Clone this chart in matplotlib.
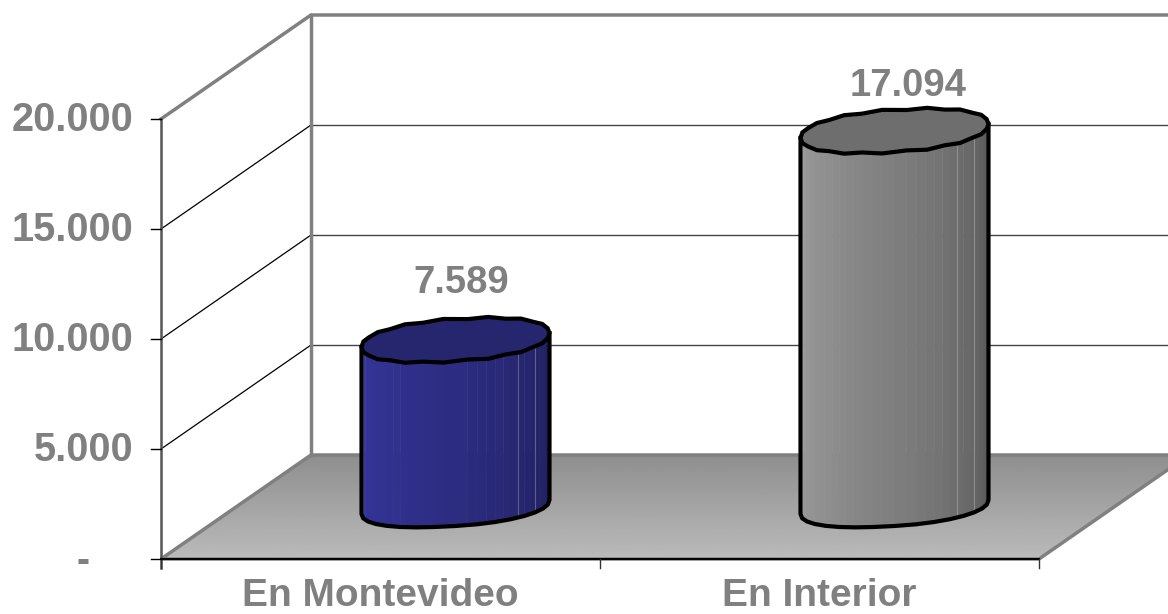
import numpy as np
import matplotlib
matplotlib.use("Agg")
import matplotlib.pyplot as plt
from matplotlib.patches import Polygon

categories = ["En Montevideo", "En Interior"]
values = [7589, 17094]
value_labels = ["7.589", "17.094"]
ticks = [0, 5000, 10000, 15000, 20000]
tick_labels = ["-", "5.000", "10.000", "15.000", "20.000"]

GREY = "#808080"
FONT = "Liberation Sans"

# oblique chart frame, in pixels
X0, X1 = 161, 1039
Y0 = 559
PX_PER_UNIT = 440 / 20000
DX, DY = 150, -104

# where the value labels sit relative to the top of each cylinder
LABEL_OFFSET = [(6, -57), (14, -45)]


def project(cat, val, depth=0.0):
    """cat 0..2 along the x axis, val on the y axis, depth 0 front .. 1 back."""
    x = X0 + (X1 - X0) * cat / 2 + DX * depth
    y = Y0 - val * PX_PER_UNIT + DY * depth
    return x, y


def hex_mix(c1, c2, t):
    c1 = np.array(matplotlib.colors.to_rgb(c1))
    c2 = np.array(matplotlib.colors.to_rgb(c2))
    return c1 + (c2 - c1) * t


def draw_cylinder(ax, i, val, light, dark, top_color):
    cx, base_y = project(i + 0.5, 0, 0.5)
    top_y = base_y - val * PX_PER_UNIT
    a, tilt, b = 94, 7, 21

    # coarse outline, the original is a rough polygon
    n = 30
    t = np.linspace(0, 2 * np.pi, n, endpoint=False)
    wob = np.where(np.arange(n) % 2 == 0, 0.9, -0.7)
    ex = a * np.sign(np.cos(t)) * np.abs(np.cos(t)) ** 0.9
    ey = -tilt * np.cos(t) + (b + wob) * np.sign(np.sin(t)) * np.abs(np.sin(t)) ** 0.9

    # side strips, left to right (front half of the ellipse)
    front = np.linspace(np.pi, 0, 33)
    fx = a * np.sign(np.cos(front)) * np.abs(np.cos(front)) ** 0.9
    fy = -tilt * np.cos(front) + b * np.abs(np.sin(front)) ** 0.9
    base_fy = -tilt * np.cos(front) + (b - 2) * np.abs(np.sin(front)) ** 0.9
    for k in range(len(front) - 1):
        c = hex_mix(light, dark, (k / (len(front) - 2)) ** 1.3)
        quad = [(cx + fx[k], top_y + fy[k]), (cx + fx[k + 1] + 0.5, top_y + fy[k + 1]),
                (cx + fx[k + 1] + 0.5, base_y + base_fy[k + 1]), (cx + fx[k], base_y + base_fy[k])]
        ax.add_patch(Polygon(quad, closed=True, fc=c, ec="none", zorder=5))
        if k in (2, 23, 26):
            ax.plot([cx + fx[k]] * 2, [top_y + fy[k], base_y + base_fy[k]],
                    color="white", alpha=0.25, lw=0.8, zorder=6)

    # outline of the body
    bx = np.concatenate([[cx - a], cx + fx[::2], [cx + a]])
    by = np.concatenate([[top_y + tilt], base_y + base_fy[::2], [top_y - tilt]])
    ax.plot(bx, by, color="black", lw=3, zorder=7, solid_joinstyle="round")

    pts = np.column_stack([cx + ex, top_y + ey])
    ax.add_patch(Polygon(pts, closed=True, fc=top_color, ec="black", lw=3, zorder=8))

    off = LABEL_OFFSET[i]
    ax.text(cx + off[0], top_y + off[1], value_labels[i], ha="center", va="center", color=GREY,
            fontsize=27.5, fontweight="bold", family=FONT, zorder=9)


fig = plt.figure(figsize=(11.68, 6.14), dpi=100)
ax = fig.add_axes([0, 0, 1, 1])
ax.set_xlim(0, 1168)
ax.set_ylim(614, 0)
ax.axis("off")

# floor with vertical gradient
floor = [project(0, 0), project(2, 0), project(2, 0, 1), project(0, 0, 1)]
fy_top, fy_bot = floor[2][1], floor[0][1]
grad = np.linspace(0.56, 0.73, 100).reshape(-1, 1)
im = ax.imshow(grad, cmap="gray", vmin=0, vmax=1, aspect="auto",
               extent=(X0, X1 + DX, fy_bot, fy_top), zorder=1)
floor_patch = Polygon(floor, closed=True, fc="none", ec=GREY, lw=2.5, zorder=2)
ax.add_patch(floor_patch)
im.set_clip_path(floor_patch)
ax.set_xlim(0, 1168)
ax.set_ylim(614, 0)

# gridlines, side wall and back wall
for v in ticks[1:-1]:
    x0, y0 = project(0, v)
    x1, y1 = project(0, v, 1)
    x2, y2 = project(2, v, 1)
    ax.plot([x0, x1], [y0, y1], color="black", lw=0.9, zorder=2)
    ax.plot([x1, x2], [y1, y2], color="#444444", lw=1.0, zorder=2)

x0, y0 = project(0, ticks[-1])
x1, y1 = project(0, ticks[-1], 1)
x2, y2 = project(2, ticks[-1], 1)
ax.plot([x0, x1, x2], [y0, y1, y2], color=GREY, lw=2.5, zorder=3)
xb, yb = project(0, 0, 1)
ax.plot([x1, xb], [y1, yb], color=GREY, lw=2.5, zorder=3)

# front axes
ax.plot([X0, X0], [project(0, ticks[-1])[1], Y0 + 9], color="#555555", lw=1.8, zorder=4)
ax.plot([X0, X1], [Y0, Y0], color="black", lw=1.4, zorder=4)
for k in range(3):
    x, y = project(k, 0)
    ax.plot([x, x], [y, y + 9], color="#333333", lw=1.0, zorder=4)

for v, lab in zip(ticks, tick_labels):
    x, y = project(0, v)
    ax.plot([x - 10, x], [y, y], color="black", lw=1.0, zorder=4)
    if lab == "-":
        ax.text(83, y + 2, lab, ha="center", va="center", color=GREY, fontsize=28.5,
                fontweight="bold", family=FONT)
    else:
        ax.text(133, y + 1, lab, ha="right", va="center", color=GREY, fontsize=28.5,
                fontweight="bold", family=FONT)

for i, cat in enumerate(categories):
    x, y = project(i + 0.5, 0)
    ax.text(x, 596, cat, ha="center", va="center", color=GREY, fontsize=28,
            fontweight="bold", family=FONT)

draw_cylinder(ax, 0, values[0], "#35359a", "#1f1f5c", "#26266f")
draw_cylinder(ax, 1, values[1], "#9a9a9a", "#565656", "#6e6e6e")

fig.savefig("out.png", dpi=100)
